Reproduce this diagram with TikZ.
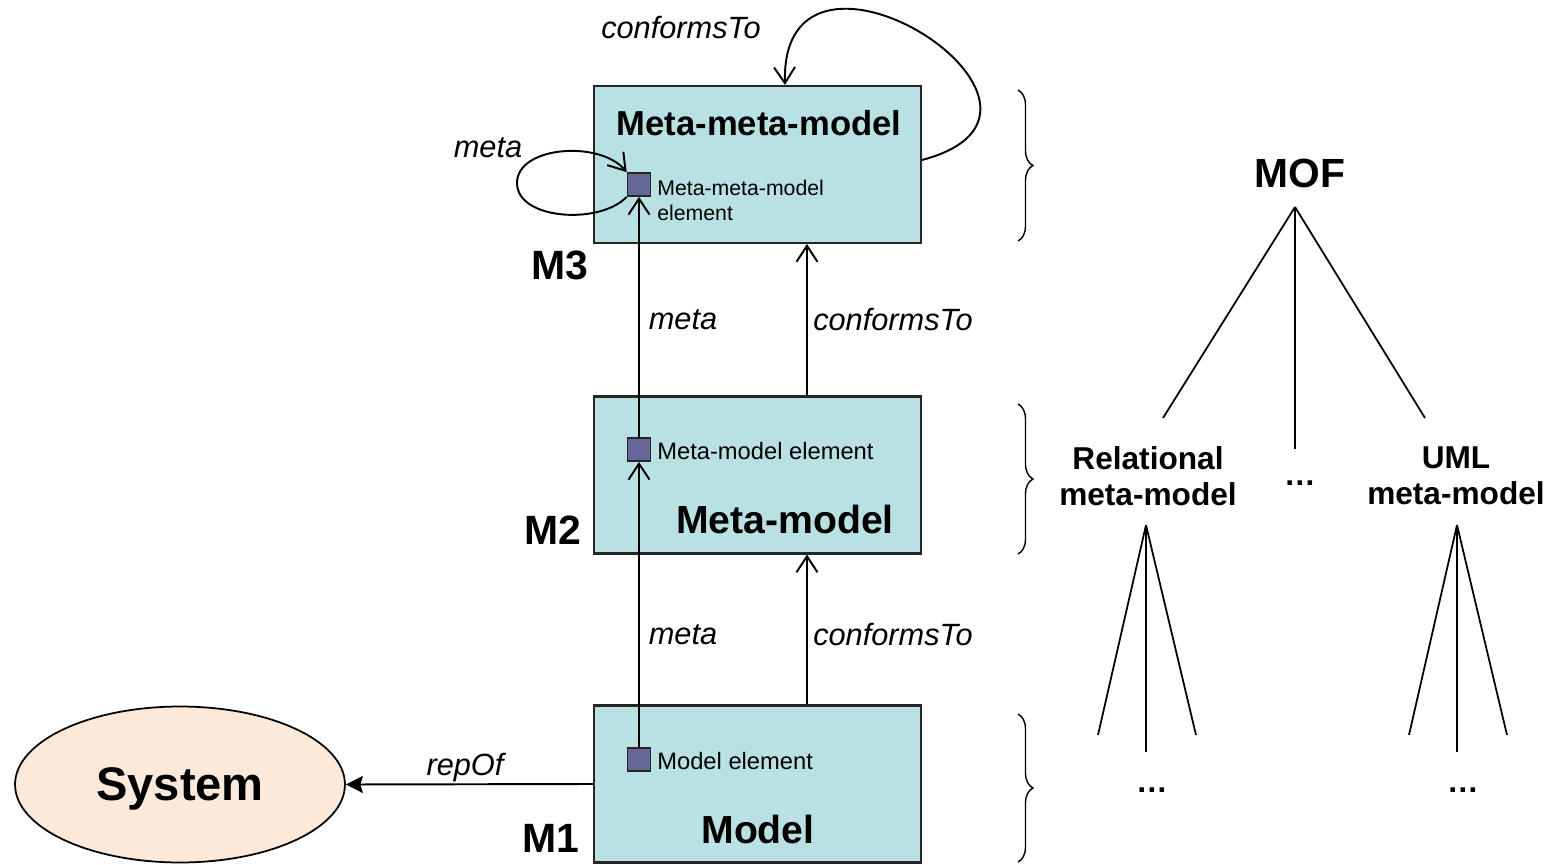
\documentclass[tikz,border=0pt]{standalone}
\usepackage{fontspec}
\setmainfont{Liberation Sans}
\usepackage{tikz}
\usetikzlibrary{positioning, shapes.geometric, arrows.meta, decorations.pathreplacing}
\definecolor{nivelAzul}{HTML}{B9E0E3}
\definecolor{elemVioleta}{HTML}{666699}
\definecolor{sistemaCrema}{HTML}{FDE9D9}

\begin{document}
\begin{tikzpicture}[
  x=0.02cm, y=-0.02cm,
  arr/.style={-{Straight Barb[length=3.2mm,width=4.2mm]}, line width=1.1pt},
  nivel/.style={draw=black!85, fill=nivelAzul, line width=1.2pt, minimum width=6.54cm, minimum height=3.14cm},
  elem/.style={draw=black!85, fill=elemVioleta, line width=1pt, minimum size=0.46cm, inner sep=0pt},
  rotulo/.style={font=\fontsize{17.5}{21}\selectfont\itshape, inner sep=0pt},
  titulo/.style={font=\fontsize{22.3}{26}\selectfont\bfseries, inner sep=0pt},
  capa/.style={font=\fontsize{23.3}{27}\selectfont\bfseries, inner sep=0pt},
  etiq/.style={font=\fontsize{13.5}{16}\selectfont, inner sep=0pt, anchor=west},
  rama/.style={line width=1pt},
  llave/.style={decorate, decoration={brace, amplitude=0.3cm}, line width=0.8pt},
  arbol/.style={font=\fontsize{18}{20.4}\selectfont\bfseries, inner sep=0pt, align=center}
]
  \useasboundingbox (0,0) rectangle (1553,865);

  % --- Niveles M3 / M2 / M1 ---
  \node[nivel] (m3) at (757.5,164.5) {};
  \node[nivel] (m2) at (757.5,475) {};
  \node[nivel] (m1) at (757.5,784) {};
  \node[titulo, font=\fontsize{19.7}{23}\selectfont\bfseries] (t3) at (759,123) {Meta-meta-model};
  \node[titulo] (t2) at (785,519) {Meta-model};
  \node[titulo] (t1) at (758,829) {Model};
  \node[capa] (c3) at (560,265) {M3};
  \node[capa] (c2) at (553,530) {M2};
  \node[capa] (c1) at (551,838) {M1};

  % --- Elementos ---
  \node[elem] (e3) at (639,184.5) {};
  \node[elem] (e2) at (639,449.5) {};
  \node[elem] (e1) at (639,759.5) {};
  \node[etiq, align=left, font=\fontsize{12.1}{14.2}\selectfont] (l3) at (657,200) {Meta-meta-model\\element};
  \node[etiq] (l2) at (657,451) {Meta-model element};
  \node[etiq] (l1) at (657,761) {Model element};

  % --- meta ---
  \draw[arr] (e1) -- (e2);
  \draw[arr] (e2) -- (e3);
  \draw[arr] (e3.south west) .. controls (600,225) and (517,220) .. (517,183)
    .. controls (517,146) and (600,140) .. (e3.north west);
  \node[rotulo] (r1) at (683,635) {meta};
  \node[rotulo] (r2) at (683,320) {meta};
  \node[rotulo] (r3) at (488,148) {meta};

  % --- conformsTo ---
  \draw[arr] ([xshift=0.99cm]m1.north) -- ([xshift=0.99cm]m2.south);
  \draw[arr] ([xshift=0.99cm]m2.north) -- ([xshift=0.99cm]m3.south);
  \draw[arr] ([yshift=0.09cm]m3.east) .. controls +(189,-50) and +(-5,-186) .. ([xshift=0.55cm]m3.north);
  \node[rotulo] (k1) at (893,635) {conformsTo};
  \node[rotulo] (k2) at (893,320) {conformsTo};
  \node[rotulo] (k3) at (681,28) {conformsTo};

  % --- System / repOf ---
  \node[ellipse, draw, fill=sistemaCrema, line width=1pt, minimum width=6.6cm, minimum height=3.12cm,
        text depth=0pt, font=\fontsize{26.8}{30}\selectfont\bfseries] (sys) at (180,784.5) {System};
  \draw[line width=1.1pt, -{Stealth[length=0.34cm,width=0.34cm,inset=0.05cm]}] (m1.west) -- (sys.east);
  \node[rotulo] (rep) at (465,768) {repOf};

  % --- Llaves ---
  \draw[llave] (1018,90) -- (1018,241);
  \draw[llave] (1018,404) -- (1018,554);
  \draw[llave] (1018,714) -- (1018,862);

  % --- Arbol MOF ---
  \node[arbol, font=\fontsize{23.2}{27}\selectfont\bfseries] (mof) at (1300,173) {MOF};
  \coordinate (mofPunta) at (1295,207);
  \coordinate (relArriba) at (1163,418);
  \coordinate (midArriba) at (1295,449);
  \coordinate (umlArriba) at (1425,418);
  \draw[rama] (mofPunta) -- (relArriba);
  \draw[rama] (mofPunta) -- (midArriba);
  \draw[rama] (mofPunta) -- (umlArriba);
  \node[arbol] (rel) at (1148,476) {Relational\\meta-model};
  \node[arbol] (puntosMid) at (1300,483) {…};
  \node[arbol] (uml) at (1456,476) {UML\\meta-model};

  % --- Abanicos inferiores ---
  \coordinate (relPunta) at (1146,525);
  \coordinate (relIzq) at (1098,735);
  \coordinate (relCen) at (1146,752);
  \coordinate (relDer) at (1196,735);
  \draw[rama] (relPunta) -- (relIzq);
  \draw[rama] (relPunta) -- (relCen);
  \draw[rama] (relPunta) -- (relDer);
  \coordinate (umlPunta) at (1457,525);
  \coordinate (umlIzq) at (1409,735);
  \coordinate (umlCen) at (1457,752);
  \coordinate (umlDer) at (1507,735);
  \draw[rama] (umlPunta) -- (umlIzq);
  \draw[rama] (umlPunta) -- (umlCen);
  \draw[rama] (umlPunta) -- (umlDer);
  \node[arbol] (puntosRel) at (1152,790) {…};
  \node[arbol] (puntosUml) at (1463,790) {…};
\end{tikzpicture}
\end{document}
